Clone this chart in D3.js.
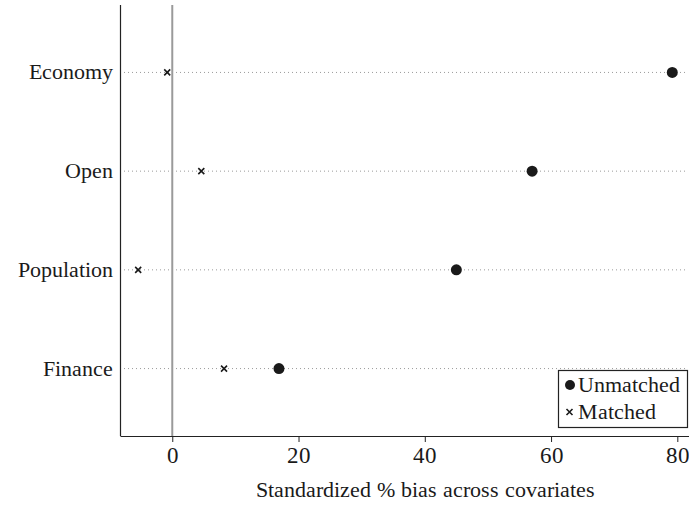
<!DOCTYPE html>
<html><head><meta charset="utf-8">
<script src="https://cdn.jsdelivr.net/npm/d3@7"></script>
<style>
@font-face{font-family:"ChartSerif";src:local("Liberation Serif"),local("LiberationSerif"),local("LiberationSerif-Regular");}
body{margin:0;background:#fff}svg{display:block}
</style>
</head><body>
<script>
const categories = ["Economy", "Open", "Population", "Finance"];
const unmatched = [79.2, 57.0, 45.0, 16.9];
const matched = [-0.8, 4.6, -5.4, 8.2];
const xTicks = [0, 20, 40, 60, 80];
const xLabel = "Standardized % bias across covariates";
const legendLabels = ["Unmatched", "Matched"];

const W = 689, H = 505;
const FAM = '"ChartSerif", "Liberation Serif", Tinos, "Times New Roman", serif';
const svg = d3.select("body").append("svg").attr("width", W).attr("height", H)
  .style("font-family", FAM);

function txt(sel, size) {
  return sel.style("font-family", FAM).style("font-size", size + "px")
    .attr("fill", "#1a1a1a");
}

const x = d3.scaleLinear().domain([-8.2, 81.85]).range([120.5, 689]);
const y = d3.scalePoint().domain(categories).range([5, 436]).padding(0.683);

// gridlines
svg.append("g").selectAll("line").data(categories).join("line")
  .attr("x1", 124).attr("x2", 686)
  .attr("y1", d => y(d)).attr("y2", d => y(d))
  .attr("stroke", "#9a9a9a").attr("stroke-width", 1)
  .attr("stroke-dasharray", "1,3");

// zero line
svg.append("line").attr("x1", x(0)).attr("x2", x(0)).attr("y1", 5).attr("y2", 436)
  .attr("stroke", "#9a9a9a").attr("stroke-width", 2);

// left axis line
svg.append("line").attr("x1", 120.5).attr("x2", 120.5).attr("y1", 5).attr("y2", 436)
  .attr("stroke", "#222").attr("stroke-width", 1.2);

// y labels
txt(svg.append("g").selectAll("text").data(categories).join("text")
  .attr("x", 113).attr("y", d => y(d) + 7)
  .attr("text-anchor", "end"), 22).text(d => d);

// x axis
const xAxis = d3.axisBottom(x).tickValues(xTicks).tickSize(6).tickPadding(5).tickFormat(d3.format("d"));
const gx = svg.append("g").attr("transform", "translate(0,436)").call(xAxis);
gx.attr("font-family", null).attr("font-size", null);
gx.select(".domain").attr("d", `M120.5,0.5H${W}`).attr("stroke", "#222").attr("stroke-width", 1.2);
gx.selectAll(".tick line").attr("stroke", "#222");
txt(gx.selectAll(".tick text"), 23);

txt(svg.append("text").attr("x", 425).attr("y", 497).attr("text-anchor", "middle"), 22).text(xLabel);

// points
svg.append("g").selectAll("circle").data(categories).join("circle")
  .attr("cx", (d, i) => x(unmatched[i])).attr("cy", d => y(d)).attr("r", 5.5)
  .attr("fill", "#1a1a1a");

function cross(g, cx, cy, s) {
  g.append("path").attr("d", `M${cx - s},${cy - s}L${cx + s},${cy + s}M${cx - s},${cy + s}L${cx + s},${cy - s}`)
    .attr("stroke", "#1a1a1a").attr("stroke-width", 1.6);
}
const gm = svg.append("g");
categories.forEach((c, i) => cross(gm, x(matched[i]), y(c), 3));

// legend
const lg = svg.append("g");
lg.append("rect").attr("x", 558.5).attr("y", 370.5).attr("width", 129).attr("height", 57)
  .attr("fill", "#fff").attr("stroke", "#222").attr("stroke-width", 1.2);
lg.append("circle").attr("cx", 570).attr("cy", 385).attr("r", 5).attr("fill", "#1a1a1a");
cross(lg, 569.5, 412, 3);
txt(lg.append("text").attr("x", 578).attr("y", 392), 22).text(legendLabels[0]);
txt(lg.append("text").attr("x", 578).attr("y", 419), 22).text(legendLabels[1]);
</script>
</body></html>
